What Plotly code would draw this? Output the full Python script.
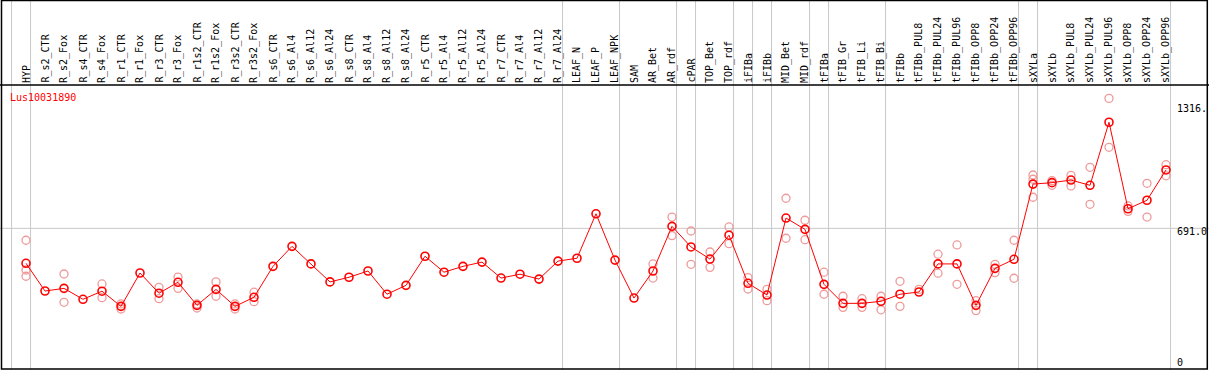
import plotly.graph_objects as go

gene = "Lus10031890"

categories = ["HYP", "R_s2_CTR", "R_s2_Fox", "R_s4_CTR", "R_s4_Fox", "R_r1_CTR", "R_r1_Fox",
              "R_r3_CTR", "R_r3_Fox", "R_r1s2_CTR", "R_r1s2_Fox", "R_r3s2_CTR", "R_r3s2_Fox",
              "R_s6_CTR", "R_s6_Al4", "R_s6_Al12", "R_s6_Al24", "R_s8_CTR", "R_s8_Al4",
              "R_s8_Al12", "R_s8_Al24", "R_r5_CTR", "R_r5_Al4", "R_r5_Al12", "R_r5_Al24",
              "R_r7_CTR", "R_r7_Al4", "R_r7_Al12", "R_r7_Al24", "LEAF_N", "LEAF_P", "LEAF_NPK",
              "SAM", "AR_Bet", "AR_rdf", "cPAR", "TOP_Bet", "TOP_rdf", "iFIBa", "iFIBb",
              "MID_Bet", "MID_rdf", "tFIBa", "tFIB_Gr", "tFIB_Li", "tFIB_Bi", "tFIBb",
              "tFIBb_PUL8", "tFIBb_PUL24", "tFIBb_PUL96", "tFIBb_OPP8", "tFIBb_OPP24",
              "tFIBb_OPP96", "sXYLa", "sXYLb", "sXYLb_PUL8", "sXYLb_PUL24", "sXYLb_PUL96",
              "sXYLb_OPP8", "sXYLb_OPP24", "sXYLb_OPP96"]

mean_values = [518, 381, 394, 340, 380, 305, 470, 370, 424, 310, 389, 305, 350,
               503, 602, 515, 426, 449, 480, 365, 409, 553, 474, 503, 524,
               445, 464, 440, 529, 543, 763, 534, 346, 480, 701, 599, 539, 657,
               419, 361, 742, 686, 414, 320, 320, 330, 365, 376, 515, 515, 310,
               493, 538, 910, 917, 930, 904, 1216, 788, 830, 980]

replicates = [[632, 485, 454], [], [465, 325], [], [416, 348], [317, 292], [],
              [399, 343], [450, 394], [317, 297], [426, 355], [317, 292], [375, 328],
              [], [], [], [], [], [], [], [], [], [], [], [],
              [], [], [], [], [], [], [], [], [515, 445], [747, 655], [678, 513],
              [574, 498], [698, 615], [447, 391], [389, 333], [840, 642], [731, 635],
              [474, 365], [355, 300], [343, 300], [355, 288], [429, 305], [389],
              [563, 469], [609, 414], [333, 284], [513, 472], [632, 444],
              [955, 934, 845], [927, 904], [953, 901], [993, 810], [1334, 1092],
              [802, 775], [914, 747], [1006, 951]]

group_breaks_after = [-1, 0, 28, 31, 34, 35, 37, 38, 39, 41, 42, 45, 52, 53, 60]
ref_line_value = 691.0
axis_labels = ["1316.", "691.0", "0"]
axis_label_values = [1316, 691.0, 0]

W, H = 1209, 370
n = len(categories)
x_idx = list(range(n))
rep_x = [i for i, reps in enumerate(replicates) for _ in reps]
rep_y = [v for reps in replicates for v in reps]

fig = go.Figure()
fig.add_trace(go.Scatter(x=rep_x, y=rep_y, mode="markers",
                         marker=dict(symbol="circle-open", size=8, color="#ee9a9a",
                                     line=dict(width=1.3, color="#ee9a9a")),
                         hoverinfo="y", showlegend=False))
fig.add_trace(go.Scatter(x=x_idx, y=mean_values, mode="lines+markers",
                         line=dict(color="#ff0000", width=1),
                         marker=dict(symbol="circle-open", size=8, color="#ff0000",
                                     line=dict(width=1.6, color="#ff0000")),
                         text=categories, hoverinfo="text+y", showlegend=False))

shapes = []
for b in group_breaks_after:
    shapes.append(dict(type="line", xref="x", yref="paper", x0=b + 0.24, x1=b + 0.24,
                       y0=0, y1=1, line=dict(color="#c8c8c8", width=1), layer="below"))
shapes.append(dict(type="line", xref="paper", yref="y", x0=0, x1=1,
                   y0=ref_line_value, y1=ref_line_value,
                   line=dict(color="#c8c8c8", width=1), layer="below"))
# frame and header separator
shapes.append(dict(type="rect", xref="paper", yref="paper", x0=1.5 / W, x1=1207.3 / W,
                   y0=1 - 369 / H, y1=1 - 0.5 / H, line=dict(color="black", width=1.5)))
shapes.append(dict(type="line", xref="paper", yref="paper", x0=0, x1=1,
                   y0=1 - 85 / H, y1=1 - 85 / H, line=dict(color="black", width=1.5)))

annotations = []
for i, c in enumerate(categories):
    annotations.append(dict(x=i, y=1 - 84 / H, xref="x", yref="paper", text=c,
                            textangle=-90, showarrow=False, xanchor="center",
                            yanchor="bottom", borderpad=0,
                            font=dict(family="DejaVu Sans Mono", size=10, color="black")))
annotations.append(dict(x=9 / W, y=1 - 97 / H, xref="paper", yref="paper", text=gene,
                        showarrow=False, xanchor="left", yanchor="middle", borderpad=0,
                        font=dict(family="DejaVu Sans Mono", size=10, color="#ff0000")))
label_pix_y = [108, 231.7, 362.7]
for lab, py in zip(axis_labels, label_pix_y):
    annotations.append(dict(x=1175.5 / W, y=1 - py / H, xref="paper", yref="paper", text=lab,
                            showarrow=False, xanchor="left", yanchor="middle", borderpad=0,
                            font=dict(family="DejaVu Sans Mono", size=10, color="black")))

scale = 0.2021
x0 = -26 / 19
fig.update_layout(
    width=W, height=H, margin=dict(l=0, r=0, t=0, b=0),
    paper_bgcolor="white", plot_bgcolor="white",
    xaxis=dict(range=[x0, x0 + W / 19], visible=False, showgrid=False, zeroline=False),
    yaxis=dict(range=[-2 / scale, 368 / scale], visible=False, showgrid=False, zeroline=False),
    shapes=shapes, annotations=annotations,
)

fig.write_html("out.html", config={"displayModeBar": False},
               post_script="document.body.style.margin='0';")
